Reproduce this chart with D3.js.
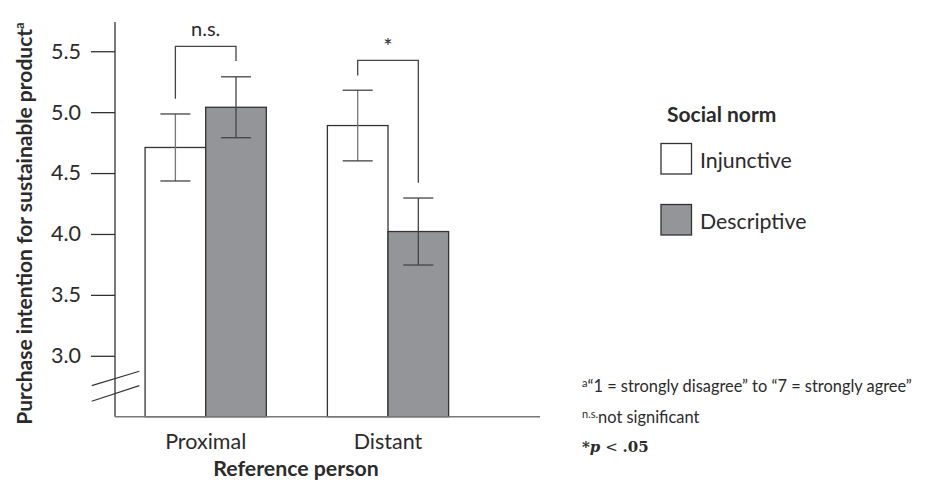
<!DOCTYPE html>
<html>
<head>
<meta charset="utf-8">
<script src="https://cdn.jsdelivr.net/npm/d3@7"></script>
<style>
  body { margin: 0; background: #fff; }
  svg text { font-family: Lato, "Open Sans", sans-serif; fill: #2b2b2b; }
</style>
</head>
<body>
<div id="chart"></div>
<script>
var categories = ["Proximal", "Distant"]
var norms = ["Injunctive", "Descriptive"]
var means = {Proximal: [4.71, 5.04], Distant: [4.89, 4.02]}
var errors = {Proximal: [0.275, 0.25], Distant: [0.29, 0.275]}
var yTicks = [3.0, 3.5, 4.0, 4.5, 5.0, 5.5]
// comparison brackets: top level, left end, right end (in y units)
var brackets = [
  {cat: "Proximal", label: "n.s.", top: 5.54, left: 5.11, right: 5.42},
  {cat: "Distant", label: "*", top: 5.425, left: 5.30, right: 4.42}
]

var svg = d3.select("#chart").append("svg").attr("width", 935).attr("height", 485)

var y = d3.scaleLinear().domain([2.5, 5.74]).range([416.7, 22])
var x = d3.scaleBand().domain(categories).range([115, 478.7])
    .paddingInner(0.335).paddingOuter(0.165)
var xSub = d3.scaleBand().domain(norms).range([0, x.bandwidth()])
var fill = d3.scaleOrdinal().domain(norms).range(["#ffffff", "#939598"])

// y axis
var yAxis = svg.append("g")
    .attr("transform", "translate(115,0)")
    .call(d3.axisLeft(y).tickValues(yTicks).tickFormat(d3.format(".1f")).tickSize(24).tickPadding(10))
yAxis.select(".domain").remove()
yAxis.selectAll(".tick line").attr("stroke", "#333").attr("stroke-width", 1.3)
yAxis.selectAll(".tick text")
    .style("font-family", "Lato").style("font-size", "21.5px").attr("fill", "#2b2b2b")

svg.append("line")
    .attr("x1", 115).attr("x2", 115).attr("y1", y.range()[1]).attr("y2", y(2.5))
    .attr("stroke", "#333").attr("stroke-width", 1.3)

// axis break marks
svg.append("line").attr("x1", 91.7).attr("y1", y(2.755)).attr("x2", 139.3).attr("y2", y(2.873))
    .attr("stroke", "#333").attr("stroke-width", 1.1)
svg.append("line").attr("x1", 91.7).attr("y1", y(2.627)).attr("x2", 139.3).attr("y2", y(2.755))
    .attr("stroke", "#333").attr("stroke-width", 1.1)

// bars
var groups = svg.selectAll(".grp").data(categories).enter().append("g")
    .attr("transform", function(d) { return "translate(" + x(d) + ",0)" })

groups.selectAll("rect").data(function(c) {
    return norms.map(function(n, i) { return {cat: c, norm: n, v: means[c][i], e: errors[c][i]} })
  }).enter().append("rect")
    .attr("x", function(d) { return xSub(d.norm) })
    .attr("y", function(d) { return y(d.v) })
    .attr("width", xSub.bandwidth())
    .attr("height", function(d) { return y(2.5) - y(d.v) })
    .attr("fill", function(d) { return fill(d.norm) })
    .attr("stroke", "#333").attr("stroke-width", 1.3)

// error bars
var eb = groups.selectAll(".eb").data(function(c) {
    return norms.map(function(n, i) { return {cat: c, norm: n, v: means[c][i], e: errors[c][i]} })
  }).enter().append("g")
    .attr("transform", function(d) { return "translate(" + (xSub(d.norm) + xSub.bandwidth() / 2) + ",0)" })
eb.append("line").attr("x1", 0).attr("x2", 0)
    .attr("y1", function(d) { return y(d.v + d.e) })
    .attr("y2", function(d) { return y(d.v - d.e) })
    .attr("stroke", function(d) { return d.norm == "Injunctive" ? "#777" : "#444" }).attr("stroke-width", 1.3)
eb.selectAll(".cap").data(function(d) { return [d.v + d.e, d.v - d.e] }).enter().append("line")
    .attr("x1", -15).attr("x2", 15)
    .attr("y1", function(d) { return y(d) }).attr("y2", function(d) { return y(d) })
    .attr("stroke", "#444").attr("stroke-width", 1.3)

// x axis
svg.append("line").attr("x1", 115).attr("x2", 540).attr("y1", y(2.5)).attr("y2", y(2.5))
    .attr("stroke", "#777").attr("stroke-width", 1.5)
svg.selectAll(".xlab").data(categories).enter().append("text")
    .attr("x", function(d) { return x(d) + x.bandwidth() / 2 })
    .attr("y", 449)
    .attr("text-anchor", "middle")
    .style("font-size", "21.5px")
    .text(function(d) { return d })

svg.append("text").attr("x", 296).attr("y", 476).attr("text-anchor", "middle")
    .style("font-size", "21.3px").style("font-weight", "bold")
    .text("Reference person")

var ylab = svg.append("text")
    .attr("transform", "translate(31.5,223.5) rotate(-90)")
    .attr("text-anchor", "middle")
    .style("font-size", "21px").style("font-weight", "bold")
ylab.append("tspan").text("Purchase intention for sustainable product")
ylab.append("tspan").attr("dy", -8).style("font-size", "13px").text("a")

// significance brackets
brackets.forEach(function(b) {
  var xl = x(b.cat) + xSub("Injunctive") + xSub.bandwidth() / 2
  var xr = x(b.cat) + xSub("Descriptive") + xSub.bandwidth() / 2
  svg.append("path")
      .attr("d", "M" + xl + "," + y(b.left) + "V" + y(b.top) + "H" + xr + "V" + y(b.right))
      .attr("fill", "none").attr("stroke", "#444").attr("stroke-width", 1.3)
  svg.append("text")
      .attr("x", (xl + xr) / 2)
      .attr("y", b.label == "*" ? y(b.top) - 6 : y(b.top) - 10)
      .attr("text-anchor", "middle")
      .style("font-size", b.label == "*" ? "22px" : "20px")
      .text(b.label)
})

// legend
svg.append("text").attr("x", 667).attr("y", 122)
    .style("font-size", "21px").style("font-weight", "bold").text("Social norm")
var leg = svg.selectAll(".leg").data(norms).enter().append("g")
    .attr("transform", function(d, i) { return "translate(661," + (143.5 + i * 61) + ")" })
leg.append("rect").attr("width", 30.5).attr("height", 30.5)
    .attr("fill", function(d) { return fill(d) }).attr("stroke", "#333").attr("stroke-width", 1.3)
leg.append("text").attr("x", 39).attr("y", 24).style("font-size", "21.3px").text(function(d) { return d })

// footnotes
var f1 = svg.append("text").attr("x", 582).attr("y", 391.5).style("font-size", "16.4px")
f1.append("tspan").attr("dy", -5).style("font-size", "11px").text("a")
f1.append("tspan").attr("dy", 5).text("\u201c1 = strongly disagree\u201d to \u201c7 = strongly agree\u201d")
var f2 = svg.append("text").attr("x", 582).attr("y", 422.5).style("font-size", "16.4px")
f2.append("tspan").attr("dy", -5).style("font-size", "11px").text("n.s.")
f2.append("tspan").attr("dy", 5).text("not significant")
var f3 = svg.append("text").attr("x", 582).attr("y", 451.5)
    .style("font-family", "'DejaVu Serif', serif").style("font-size", "15px").style("font-weight", "bold")
f3.append("tspan").text("*")
f3.append("tspan").style("font-style", "italic").text("p")
f3.append("tspan").style("font-weight", "normal").text(" < ")
f3.append("tspan").text(".05")
</script>
</body>
</html>
